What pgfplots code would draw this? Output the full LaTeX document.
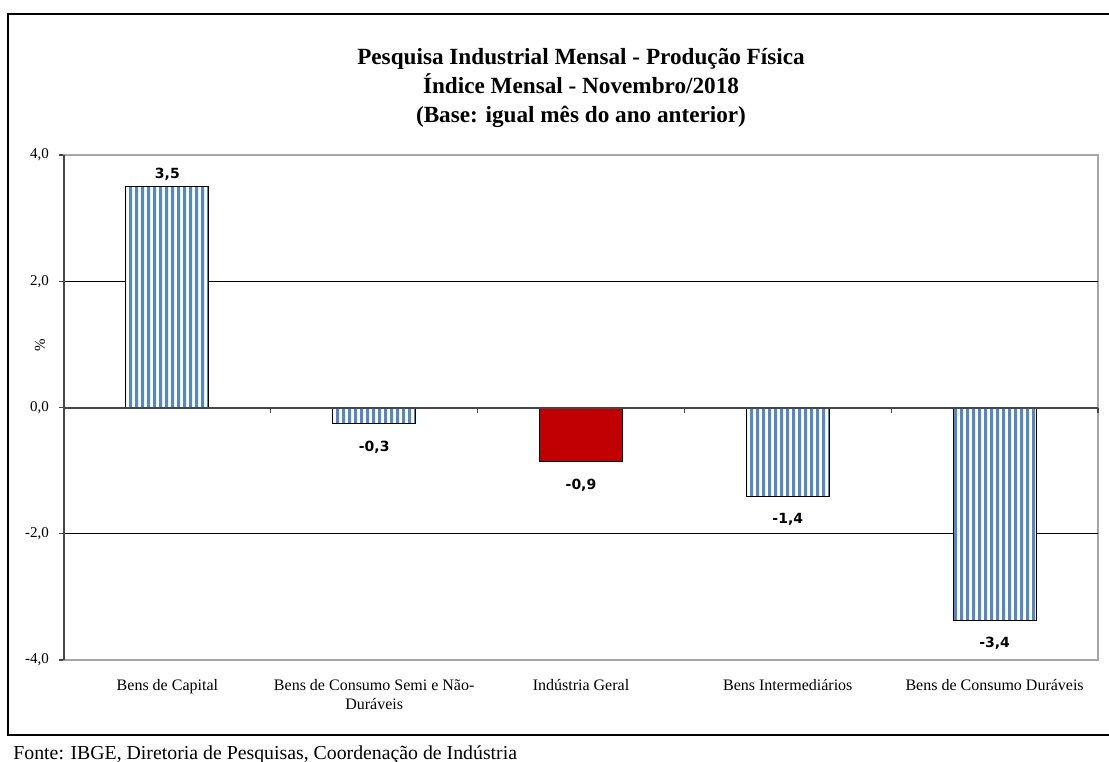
\documentclass[border=0pt]{standalone}
\usepackage{fontspec}
\setmainfont{Liberation Serif}
\newfontfamily\labfont{DejaVu Sans}
\usepackage{pgfplots}
\pgfplotsset{compat=1.18}
\usetikzlibrary{patterns}

\definecolor{barblue}{RGB}{84,135,196}
\definecolor{barred}{RGB}{192,0,0}
\definecolor{axgray}{RGB}{166,166,166}
\definecolor{axdark}{RGB}{70,70,70}

% vertical stripes, about 6px period (tall tile, so no seams inside a bar)
\pgfdeclarepatternformonly{vstripes}{\pgfpointorigin}{\pgfpoint{2.95pt}{400pt}}{\pgfpoint{2.95pt}{400pt}}{%
  \pgfpathrectangle{\pgfpointorigin}{\pgfpoint{1.55pt}{400pt}}\pgfusepath{fill}}

\begin{document}
\begin{tikzpicture}[x=1pt,y=1pt]
\useasboundingbox (0,0) rectangle (554.5,380.5);
% outer frame
\draw[line width=1.3pt] (560,373.5) -- (4,373.5) -- (4,13) -- (560,13);

\node[align=center, font=\bfseries\fontsize{11.6}{14.6}\selectfont] at (290.5,336.5)
  {Pesquisa Industrial Mensal - Produção Física\\Índice Mensal - Novembro/2018\\(Base: igual mês do ano anterior)};

\node[anchor=base west, inner sep=0, font=\fontsize{9.9}{11}\selectfont] at (6.5,1.0)
  {Fonte: IBGE, Diretoria de Pesquisas, Coordenação de Indústria};

\begin{axis}[
  at={(32pt,50.5pt)}, anchor=south west,
  scale only axis, width=517pt, height=252.5pt,
  xmin=-0.5, xmax=4.5, ymin=-4, ymax=4,
  clip=false,
  axis line style={draw=axgray, line width=1pt},
  ytick={-4,-2,0,2,4},
  yticklabels={{-4,0},{-2,0},{0,0},{2,0},{4,0}},
  ytick pos=left, tick align=outside, major tick length=2.5pt,
  ytick style={draw=axdark, line width=0.6pt},
  yticklabel style={font=\fontsize{7.5}{8}\selectfont, xshift=-1.5pt},
  xtick={0,1,2,3,4},
  xticklabels={Bens de Capital, {Bens de Consumo Semi e Não-\\Duráveis}, Indústria Geral, Bens Intermediários, Bens de Consumo Duráveis},
  major x tick style={draw=none},
  xticklabel style={font=\fontsize{8}{9.5}\selectfont, align=center, anchor=north, yshift=-3.5pt},
  ylabel={\%},
  ylabel style={at={(axis description cs:-0.0232,0.624)}, anchor=center, font=\fontsize{7.5}{8}\selectfont},
  every node near coord/.append style={font=\labfont\bfseries\fontsize{7}{8}\selectfont},
  nodes near coords={\pgfmathprintnumber[fixed,fixed zerofill,precision=1,use comma,assume math mode=true]{\pgfplotspointmeta}},
]
% gridlines
\draw[black, line width=0.5pt] (axis cs:-0.5,2) -- (axis cs:4.5,2);
\draw[black, line width=0.5pt] (axis cs:-0.5,-2) -- (axis cs:4.5,-2);

% positive bar
\addplot[ybar, bar width=41.5pt, bar shift=0pt, draw=black, line width=0.5pt, fill=white,
  postaction={pattern=vstripes, pattern color=barblue},
  every node near coord/.append style={anchor=south, yshift=-0.5pt}]
  coordinates {(0,3.5)};
% negative bars
\addplot[ybar, bar width=41.5pt, bar shift=0pt, draw=black, line width=0.5pt, fill=white,
  postaction={pattern=vstripes, pattern color=barblue},
  every node near coord/.append style={anchor=north, yshift=-5pt}]
  coordinates {(1,-0.26) (3,-1.41) (4,-3.37)};
% Indústria Geral
\addplot[ybar, bar width=41.5pt, bar shift=0pt, draw=black, line width=0.5pt, fill=barred,
  every node near coord/.append style={anchor=north, yshift=-5pt}]
  coordinates {(2,-0.86)};

% zero line and category ticks
\draw[axdark, line width=1pt] (axis cs:-0.5,0) -- (axis cs:4.5,0);
\draw[axdark, line width=0.6pt] (axis cs:0.5,0) -- ++(0pt,-2.5pt);
\draw[axdark, line width=0.6pt] (axis cs:1.5,0) -- ++(0pt,-2.5pt);
\draw[axdark, line width=0.6pt] (axis cs:2.5,0) -- ++(0pt,-2.5pt);
\draw[axdark, line width=0.6pt] (axis cs:3.5,0) -- ++(0pt,-2.5pt);
\draw[axdark, line width=0.6pt] (axis cs:4.5,0) -- ++(0pt,-2.5pt);
% left axis
\draw[axdark, line width=1pt] (rel axis cs:0,0) -- (rel axis cs:0,1);
\end{axis}
\end{tikzpicture}
\end{document}
